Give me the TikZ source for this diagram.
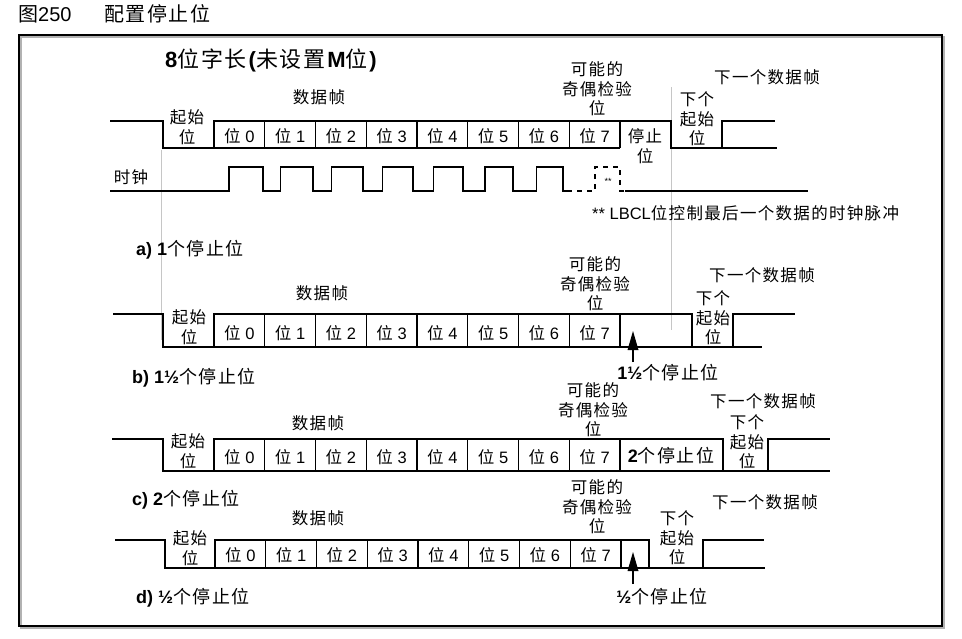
\documentclass[tikz,border=0pt]{standalone}
\usepackage{fontspec}
\setmainfont{Liberation Sans}
\newfontfamily\cjk[LetterSpace=8]{Noto Sans CJK SC}
\usetikzlibrary{arrows.meta}
\newcommand\zh[1]{{\cjk #1}}
\newcommand\fs[1]{\fontsize{#1}{#1}\selectfont}
\begin{document}
\begin{tikzpicture}[x=1pt,y=-1pt,
  sig/.style={line width=1.3pt, line join=miter},
  gl/.style={gray!45, line width=0.6pt},
  lbl/.style={font=\fs{16.5}, inner sep=0, align=center},
  stack/.style={font=\fontsize{16.5}{19.5}\selectfont, inner sep=0, align=center},
  capt/.style={font=\fs{18}, inner sep=0, anchor=west},
  shaft/.style={line width=1.6pt},
  head/.style={fill=black}]
\useasboundingbox (0,0) rectangle (962,638);
% header
\node[font=\fs{20}, inner sep=0, anchor=west] (fig) at (18,14) {\zh{图}250};
\node[font=\fs{20}, inner sep=0, anchor=west] (figt) at (104,14) {\zh{配置停止位}};
% frame
\draw[gray!60, line width=1.5pt] (21,37) rectangle (944,628);
\draw[line width=1.4pt] (19,35) rectangle (942,626);
% gray guide lines
\draw[gl] (161,150) -- (161,340);
\draw[gl] (671,87) -- (671,330);
% title
\node[font=\fs{22}, inner sep=0, anchor=west] (title) at (165,60)
  {\textbf{8}\zh{位字长}\textbf{(}\zh{未设置}\textbf{M}\zh{位}\textbf{)}};

% ---------- a ----------
\draw[sig] (110,121) -- (163,121) -- (163,148) -- (620,148);
\draw[sig] (214,148) -- (214,121) -- (671,121) -- (671,148) -- (777,148);
\draw[sig] (722,148) -- (722,121) -- (775,121);
\foreach \k in {1,...,8} \draw[sig] ({214+\k*50.75},121) -- ({214+\k*50.75},148);
\foreach \k in {0,...,7} \node[lbl] (a\k) at ({214+(\k+0.5)*50.75},136) {\zh{位} \k};
\node[stack] (aframe) at (319,97) {\zh{数据帧}};
\node[stack] (astart) at (187,127) {\zh{起始}\\\zh{位}};
\node[stack] (apar) at (597,89) {\zh{可能的}\\\zh{奇偶检验}\\\zh{位}};
\node[stack] (astop) at (645,146) {\zh{停止}\\\zh{位}};
\node[stack] (anext) at (697,119) {\zh{下个}\\\zh{起始}\\\zh{位}};
\node[lbl] (anf) at (767,77) {\zh{下一个数据帧}};
% clock
\node[lbl] (clk) at (131,177) {\zh{时钟}};
\draw[sig] (110,191)
  \foreach \k in {0,...,6} { -- ({229+\k*51.2},191) -- ({229+\k*51.2},167) -- ({263+\k*50},167) -- ({263+\k*50},191) }
  -- (567,191);
\draw[line width=1.1pt, dash pattern=on 5pt off 5pt] (567,191) -- (595,191) -- (595,167) -- (620,167) -- (620,191) -- (625,191);
\draw[sig] (625,191) -- (808,191);
\node[font=\fs{9}, inner sep=0] (stars) at (608,181) {**};
\node[font=\fs{16.5}, inner sep=0, anchor=west] (note) at (592,213) {** LBCL\zh{位控制最后一个数据的时钟脉冲}};
\node[capt] (capa) at (136,250) {\textbf{a) 1}\zh{个停止位}};

% ---------- b ----------
\draw[sig] (113,314) -- (163,314) -- (163,347) -- (762,347);
\draw[sig] (214,347) -- (214,314) -- (692,314) -- (692,347);
\draw[sig] (733,347) -- (733,314) -- (795,314);
\foreach \k in {1,...,8} \draw[sig] ({214+\k*50.75},314) -- ({214+\k*50.75},347);
\foreach \k in {0,...,7} \node[lbl] (b\k) at ({214+(\k+0.5)*50.75},333) {\zh{位} \k};
\node[stack] (bframe) at (322,293) {\zh{数据帧}};
\node[stack] (bstart) at (189,327) {\zh{起始}\\\zh{位}};
\node[stack] (bpar) at (595,284) {\zh{可能的}\\\zh{奇偶检验}\\\zh{位}};
\node[stack] (bnext) at (713,318) {\zh{下个}\\\zh{起始}\\\zh{位}};
\node[lbl] (bnf) at (762,275) {\zh{下一个数据帧}};
\node[font=\fs{18}, inner sep=0] (bstop) at (668,373) {\textbf{1½}\zh{个停止位}};
\coordinate (btail) at (633,362);
\coordinate (btip) at (633,331);
\draw[shaft] (btail) -- ([yshift=-14pt]btip);
\fill[head] (btip) -- ++(-5.5,19) -- ++(11,0) -- cycle;
\node[capt] (capb) at (132,378) {\textbf{b) 1½}\zh{个停止位}};

% ---------- c ----------
\draw[sig] (112,439) -- (163,439) -- (163,471) -- (830,471);
\draw[sig] (214,471) -- (214,439) -- (723,439) -- (723,471);
\draw[sig] (768,471) -- (768,439) -- (830,439);
\foreach \k in {1,...,8} \draw[sig] ({214+\k*50.75},439) -- ({214+\k*50.75},471);
\foreach \k in {0,...,7} \node[lbl] (c\k) at ({214+(\k+0.5)*50.75},457) {\zh{位} \k};
\node[stack] (cframe) at (318,423) {\zh{数据帧}};
\node[stack] (cstart) at (188,451) {\zh{起始}\\\zh{位}};
\node[stack] (cpar) at (593,410) {\zh{可能的}\\\zh{奇偶检验}\\\zh{位}};
\node[font=\fs{18}, inner sep=0] (cstop) at (671,456) {\textbf{2}\zh{个停止位}};
\node[stack] (cnext) at (747,442) {\zh{下个}\\\zh{起始}\\\zh{位}};
\node[lbl] (cnf) at (763,401) {\zh{下一个数据帧}};
\node[capt] (capc) at (132,500) {\textbf{c) 2}\zh{个停止位}};

% ---------- d ----------
\draw[sig] (115,540) -- (165,540) -- (165,568) -- (765,568);
\draw[sig] (215,568) -- (215,540) -- (649,540) -- (649,568);
\draw[sig] (703,568) -- (703,540) -- (764,540);
\foreach \k in {1,...,8} \draw[sig] ({215+\k*50.75},540) -- ({215+\k*50.75},568);
\foreach \k in {0,...,7} \node[lbl] (d\k) at ({215+(\k+0.5)*50.75},555) {\zh{位} \k};
\node[stack] (dframe) at (318,518) {\zh{数据帧}};
\node[stack] (dstart) at (190,548) {\zh{起始}\\\zh{位}};
\node[stack] (dpar) at (597,507) {\zh{可能的}\\\zh{奇偶检验}\\\zh{位}};
\node[stack] (dnext) at (677,538) {\zh{下个}\\\zh{起始}\\\zh{位}};
\node[lbl] (dnf) at (765,502) {\zh{下一个数据帧}};
\node[font=\fs{18}, inner sep=0] (dstop) at (662,597) {\textbf{½}\zh{个停止位}};
\coordinate (dtail) at (633,584);
\coordinate (dtip) at (633,552);
\draw[shaft] (dtail) -- ([yshift=-14pt]dtip);
\fill[head] (dtip) -- ++(-5.5,19) -- ++(11,0) -- cycle;
\node[capt] (capd) at (136,598) {\textbf{d) ½}\zh{个停止位}};
\end{tikzpicture}
\end{document}
